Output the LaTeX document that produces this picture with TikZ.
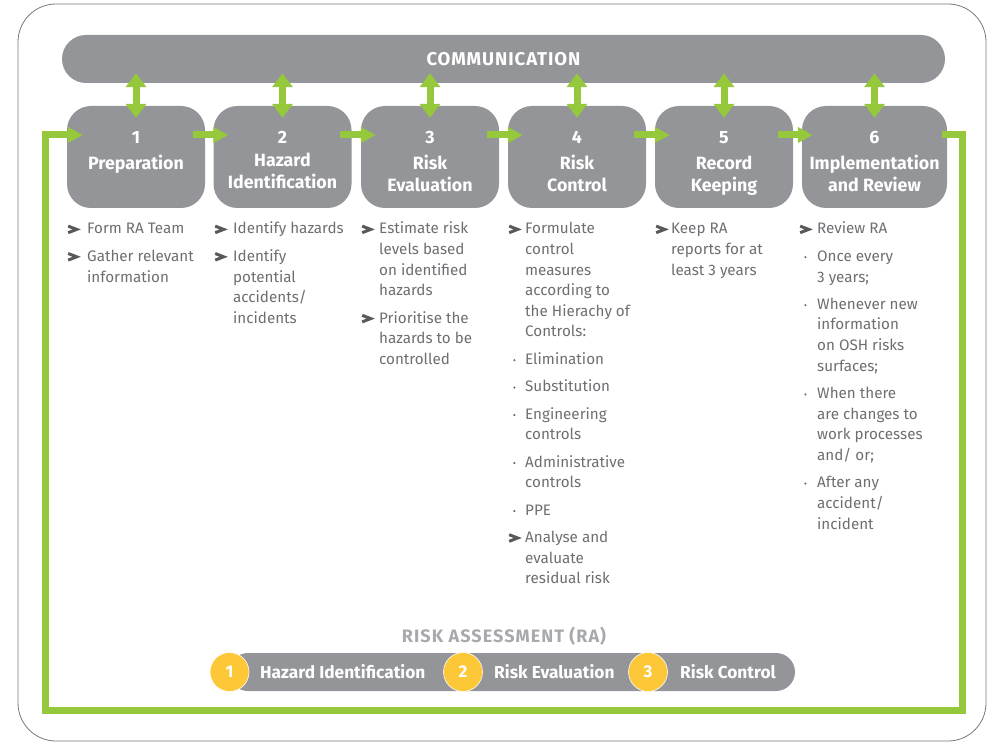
\documentclass[tikz,border=0pt]{standalone}
\usepackage{fontspec}
\setmainfont{Fira Sans}
\usepackage{tikz}
\usetikzlibrary{arrows.meta}

\definecolor{boxgray}{RGB}{147,149,152}
\definecolor{txtgray}{RGB}{109,110,113}
\definecolor{chevgray}{RGB}{88,89,91}
\definecolor{ragray}{RGB}{167,169,172}
\definecolor{rayellow}{RGB}{253,200,55}
\definecolor{ragreen}{RGB}{150,200,60}
\definecolor{framegray}{RGB}{120,120,120}

% list marks
\newcommand{\chev}{\hspace*{-1.5pt}\tikz[baseline=0pt]\draw[chevgray, line width=3pt] (0.3pt,1.3pt) -- (8.8pt,4.6pt) -- (0.3pt,7.9pt);}
\newcommand{\dotb}{\hspace*{4pt}\tikz[baseline=0pt]\fill[txtgray] (1.3pt,4.2pt) circle[radius=1.2pt];}

\tikzset{
  stepbox/.style={fill=boxgray, rounded corners=24pt, minimum width=138pt,
    minimum height=102pt, inner sep=0pt},
  steptext/.style={text=white, font=\fontsize{17.8}{22}\selectfont\bfseries,
    anchor=base, inner sep=0pt},
  itemtext/.style={text=txtgray, font=\fontsize{15.2}{20.6}\selectfont,
    anchor=base west, inner sep=0pt},
  flow/.style={line width=7pt, draw=ragreen,
    -{Triangle[length=15pt,width=15pt]}},
  talk/.style={line width=7pt, draw=ragreen,
    {Triangle[length=14pt,width=20pt]}-{Triangle[length=14pt,width=20pt]}},
  rastep/.style={circle, fill=rayellow, draw=white, line width=0.6pt,
    minimum size=39pt, inner sep=0pt, text=white,
    font=\fontsize{17}{18}\selectfont\bfseries},
  ralabel/.style={anchor=west, text=white, inner sep=0pt,
    font=\fontsize{17.3}{18}\selectfont\bfseries},
}

\begin{document}
\begin{tikzpicture}[x=1pt, y=-1pt]
    \useasboundingbox (0,0) rectangle (987,743);
    % outer frame
    \draw[framegray, line width=0.8pt, rounded corners=38pt] (18,4) rectangle (986,741);

    % communication bar
    \node[fill=boxgray, rounded corners=24pt, minimum width=883pt, minimum height=48pt,
      text=white, font=\fontsize{18.5}{20}\selectfont\bfseries\addfontfeature{LetterSpace=5}]
      (comm) at (503.5,59) {COMMUNICATION};

    % steps
    \node[stepbox] (step_1) at (136,157) {};
    \node[stepbox] (step_2) at (282.5,157) {};
    \node[stepbox] (step_3) at (430,157) {};
    \node[stepbox] (step_4) at (577,157) {};
    \node[stepbox] (step_5) at (724,157) {};
    \node[stepbox, minimum width=145pt] (step_6) at (874.5,157) {};

    % step titles
    \node[steptext] (title_1) at (136,144) {\begin{tabular}[t]{@{}c@{}}1\\[4pt]Preparation\end{tabular}};
    \node[steptext] (title_2) at (282.5,144) {\begin{tabular}[t]{@{}c@{}}2\\[1pt]Hazard\\Identification\end{tabular}};
    \node[steptext] (title_3) at (430,144) {\begin{tabular}[t]{@{}c@{}}3\\[4pt]Risk\\Evaluation\end{tabular}};
    \node[steptext] (title_4) at (577,144) {\begin{tabular}[t]{@{}c@{}}4\\[4pt]Risk\\Control\end{tabular}};
    \node[steptext] (title_5) at (724,144) {\begin{tabular}[t]{@{}c@{}}5\\[4pt]Record\\Keeping\end{tabular}};
    \node[steptext] (title_6) at (874.5,144) {\begin{tabular}[t]{@{}c@{}}6\\[4pt]Implementation\\and Review\end{tabular}};

    % arrows to and from the communication bar
    \foreach \s in {1,...,6}
        \draw[talk] ([yshift=10pt]step_\s.north |- comm.south) -- ([yshift=-12pt]step_\s.north);

    % arrows between steps
    \draw[flow] ([yshift=22pt,xshift=-12pt]step_1.east) -- ([yshift=22pt,xshift=15pt]step_2.west);
    \draw[flow] ([yshift=22pt,xshift=-12pt]step_2.east) -- ([yshift=22pt,xshift=15pt]step_3.west);
    \draw[flow] ([yshift=22pt,xshift=-12pt]step_3.east) -- ([yshift=22pt,xshift=15pt]step_4.west);
    \draw[flow] ([yshift=22pt,xshift=-12pt]step_4.east) -- ([yshift=22pt,xshift=15pt]step_5.west);
    \draw[flow] ([yshift=22pt,xshift=-15pt]step_5.east) -- ([yshift=22pt,xshift=11pt]step_6.west);

    % loop back from step 6 to step 1
    \coordinate (loop_ne) at (962,135);
    \coordinate (loop_se) at (962,710);
    \coordinate (loop_sw) at (45,710);
    \coordinate (loop_nw) at (45,135);
    \draw[flow] ([yshift=22pt,xshift=-5pt]step_6.east) -- (loop_ne) -- (loop_se)
        -- (loop_sw) -- (loop_nw) -- ([yshift=22pt,xshift=16pt]step_1.west);

    % what each step involves
    \node[itemtext] (list_1) at (68,234) {\begin{tabular}[t]{@{}p{19pt}@{}l@{}}
        \chev & Form RA Team\\[6.8pt]
        \chev & Gather relevant\\
              & information
      \end{tabular}};
    \node[itemtext] (list_2) at (215,234) {\begin{tabular}[t]{@{}p{18pt}@{}l@{}}
        \chev & Identify hazards\\[6.8pt]
        \chev & Identify\\
              & potential\\
              & accidents/\\
              & incidents
      \end{tabular}};
    \node[itemtext] (list_3) at (362,234) {\begin{tabular}[t]{@{}p{17pt}@{}l@{}}
        \chev & Estimate risk\\
              & levels based\\
              & on identified\\
              & hazards\\[6.8pt]
        \chev & Prioritise the\\
              & hazards to be\\
              & controlled
      \end{tabular}};
    \node[itemtext] (list_4) at (509,234) {\begin{tabular}[t]{@{}p{16pt}@{}l@{}}
        \chev & Formulate\\
              & control\\
              & measures\\
              & according to\\
              & the Hierachy of\\
              & Controls:\\[6.8pt]
        \dotb & Elimination\\[6.8pt]
        \dotb & Substitution\\[6.8pt]
        \dotb & Engineering\\
              & controls\\[6.8pt]
        \dotb & Administrative\\
              & controls\\[6.8pt]
        \dotb & PPE\\[6.8pt]
        \chev & Analyse and\\
              & evaluate\\
              & residual risk
      \end{tabular}};
    \node[itemtext] (list_5) at (656,234) {\begin{tabular}[t]{@{}p{15pt}@{}l@{}}
        \chev & Keep RA\\
              & reports for at\\
              & least 3 years
      \end{tabular}};
    \node[itemtext] (list_6) at (800,234) {\begin{tabular}[t]{@{}p{17pt}@{}l@{}}
        \chev & Review RA\\[6.8pt]
        \dotb & Once every\\
              & 3 years;\\[6.8pt]
        \dotb & Whenever new\\
              & information\\
              & on OSH risks\\
              & surfaces;\\[6.8pt]
        \dotb & When there\\
              & are changes to\\
              & work processes\\
              & and/ or;\\[6.8pt]
        \dotb & After any\\
              & accident/\\
              & incident
      \end{tabular}};

    % risk assessment summary
    \node[text=ragray, font=\fontsize{18}{18}\selectfont\bfseries\addfontfeature{LetterSpace=6}]
      (ra_title) at (504,636) {RISK ASSESSMENT (RA)};
    \node[fill=boxgray, rounded corners=19pt, minimum width=566pt, minimum height=38pt,
      inner sep=0pt] (ra_bar) at (512,672) {};
    \node[rastep] (ra_1) at (229.5,672) {1};
    \node[rastep] (ra_2) at (463,672) {2};
    \node[rastep] (ra_3) at (648,672) {3};
    \node[ralabel] (ra_label_1) at (260,672) {Hazard Identification};
    \node[ralabel] (ra_label_2) at (494,672) {Risk Evaluation};
    \node[ralabel] (ra_label_3) at (680,672) {Risk Control};
\end{tikzpicture}
\end{document}
